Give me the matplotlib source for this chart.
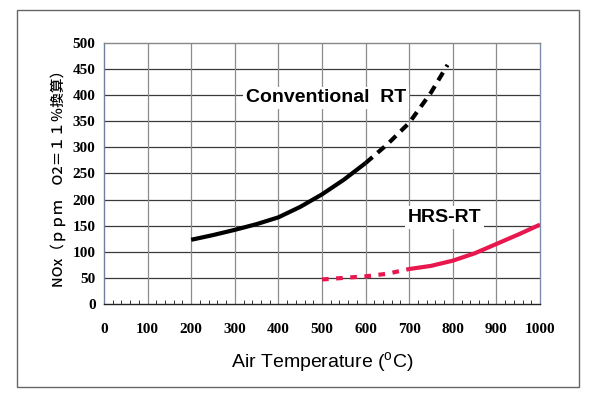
import numpy as np
import matplotlib
matplotlib.use("Agg")
import matplotlib.pyplot as plt
from matplotlib.patches import Rectangle

plt.rcParams["mathtext.fontset"] = "custom"
plt.rcParams["mathtext.rm"] = "Liberation Sans"

# Conventional RT: measured (solid) and extrapolated (dashed)
conv_x = [200, 250, 300, 350, 400, 450, 500, 550, 600]
conv_y = [123, 132, 142, 153, 166, 186, 210, 238, 270]
conv_ext_x = [600, 650, 700, 725, 750, 770, 788]
conv_ext_y = [270, 306, 347, 376, 405, 433, 458]

# HRS-RT: extrapolated (dotted) and measured (solid)
hrs_ext_x = [500, 550, 600, 650, 700]
hrs_ext_y = [47, 50, 53, 58, 67]
hrs_x = [700, 750, 800, 850, 900, 950, 1000]
hrs_y = [67, 73, 83, 97, 115, 133, 152]

xticks = np.arange(0, 1001, 100)
yticks = np.arange(0, 501, 50)

red = "#e8174e"

fig = plt.figure(figsize=(6.0, 3.98), dpi=100, facecolor="white")
ax = fig.add_axes([0.1733, 0.2362, 0.7267, 0.6558])

ax.set_xlim(0, 1000)
ax.set_ylim(0, 500)
ax.set_xticks(xticks)
ax.set_yticks(yticks)
ax.set_xticks(np.arange(0, 1001, 20), minor=True)

for y in yticks[1:-1]:
    ax.axhline(y, color="#3a3a3a", lw=0.9, zorder=1)
for x in xticks[1:-1]:
    ax.axvline(x, color="#8c8c8c", lw=0.9, zorder=1)

ax.tick_params(axis="x", which="major", length=0, pad=14)
ax.tick_params(axis="x", which="minor", direction="in", length=3, width=0.7, color="#333333")
ax.tick_params(axis="y", which="major", length=0, pad=6)
for lab in ax.get_xticklabels() + ax.get_yticklabels():
    lab.set_fontfamily("Liberation Serif")
    lab.set_fontweight("bold")
    lab.set_fontsize(11)

ax.spines["left"].set_color("#6f7f99")
ax.spines["right"].set_color("#7d8dab")
ax.spines["top"].set_color("#888888")
ax.spines["bottom"].set_color("#222222")
for s in ax.spines.values():
    s.set_linewidth(1.0)

ax.plot(conv_x, conv_y, color="black", lw=3, solid_capstyle="butt",
        solid_joinstyle="round", zorder=3)
ax.plot(conv_ext_x, conv_ext_y, color="black", lw=3, dashes=(2.2, 1.6), zorder=3)
ax.plot(hrs_ext_x, hrs_ext_y, color=red, lw=3, dashes=(1.6, 1.8), zorder=3)
ax.plot(hrs_x, hrs_y, color=red, lw=3, solid_capstyle="butt",
        solid_joinstyle="round", zorder=3)

ax.text(509, 395, "Conventional  RT", fontsize=14, fontweight="bold",
        family="Liberation Sans", ha="center", va="center", zorder=2,
        bbox=dict(facecolor="white", edgecolor="none", pad=2))
ax.text(780, 166, "HRS-RT", fontsize=14, fontweight="bold",
        family="Liberation Sans", ha="center", va="center", zorder=2,
        bbox=dict(facecolor="white", edgecolor="none", pad=2))

ax.set_xlabel(r"Air Temperature ($^{\rm o}$C)", fontsize=14,
              family="Liberation Sans", labelpad=10)

fig.text(0.097, 1 - 175 / 398, "NOx（ｐｐｍ　O2＝１１％換算）", rotation=90,
         ha="center", va="center", fontsize=10.5, fontweight="medium",
         family=["Noto Sans CJK JP", "DejaVu Sans"])

# outer frame around the whole figure
fig.patches.append(Rectangle((17 / 600, 1 - 387 / 398), 562 / 600, 377 / 398,
                             transform=fig.transFigure, fill=False,
                             edgecolor="#666666", lw=1.0))

fig.savefig("out.png", dpi=100)
